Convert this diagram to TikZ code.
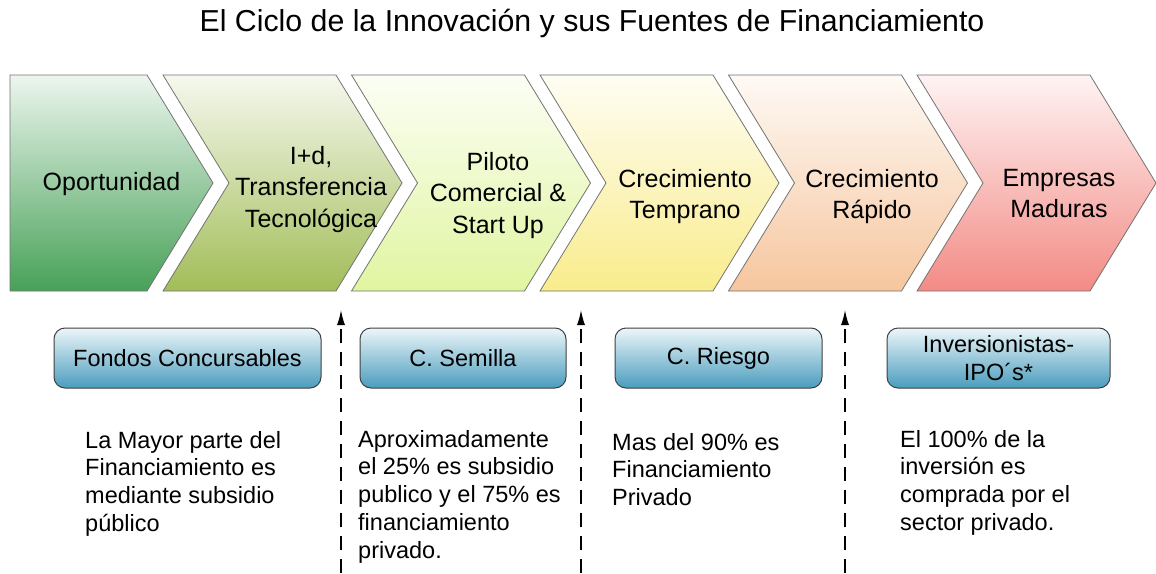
\documentclass[tikz,border=0pt]{standalone}
\usepackage{fontspec}
\setmainfont{Liberation Sans}
\usepackage{tikz}
\usetikzlibrary{arrows.meta, positioning}
\definecolor{stageA}{RGB}{71,161,88}
\definecolor{stageB}{RGB}{162,189,88}
\definecolor{stageC}{RGB}{224,245,160}
\definecolor{stageD}{RGB}{249,236,140}
\definecolor{stageE}{RGB}{246,198,158}
\definecolor{stageF}{RGB}{243,139,133}
\definecolor{boxtop}{RGB}{236,246,249}
\definecolor{boxblue}{RGB}{74,156,189}

\begin{document}
\begin{tikzpicture}[x=1pt, y=-1pt,
  chevron/.style={draw=black!55, line width=0.8pt},
  stagetext/.style={font=\fontsize{25}{31.5}\selectfont, align=center, anchor=north, inner sep=0pt},
  fundbox/.style={draw=black!75, line width=1pt, rounded corners=11pt, top color=boxtop, bottom color=boxblue,
    font=\fontsize{23.5}{28}\selectfont, align=center, minimum height=60pt, inner sep=0pt},
  note/.style={font=\fontsize{23.5}{27.7}\selectfont, align=left, anchor=north west, inner sep=0pt},
  finarrow/.style={-{Latex[length=15pt, width=8pt]}, line width=1.3pt, dash pattern=on 14pt off 9pt}]
  \fill[white] (0,0) rectangle (1156,573);
  \useasboundingbox (0,0) rectangle (1156,573);

  % Title
  \node[font=\fontsize{30.3}{36}\selectfont, anchor=base] (title) at (592,31)
    {El Ciclo de la Innovación y sus Fuentes de Financiamiento};

  % Chevrons
  \shadedraw[chevron, top color=stageA!10!white, bottom color=stageA]
    (10,75) -- (147,75) -- (213,183) -- (147,291) -- (10,291) -- cycle;
  \foreach \i/\col in {2/stageB, 3/stageC, 4/stageD, 5/stageE, 6/stageF} {
    \pgfmathsetmacro\L{163+188.5*(\i-2)}
    \pgfmathsetmacro\R{\L+173}
    \shadedraw[chevron, top color=\col!10!white, bottom color=\col]
      (\L,75) -- (\R,75) -- (\R+66,183) -- (\R,291) -- (\L,291) -- (\L+66,183) -- cycle;
  }

  \node[stagetext] (oport) at (111.5,172) {Oportunidad};
  \node[stagetext] (idtt) at (311,146) {I+d,\\Transferencia\\Tecnológica};
  \node[stagetext] (piloto) at (498,152) {Piloto\\Comercial \&\\Start Up};
  \node[stagetext] (ctemp) at (685,169) {Crecimiento\\Temprano};
  \node[stagetext] (crap) at (872,169) {Crecimiento\\Rápido};
  \node[stagetext] (madur) at (1059,169) {Empresas\\Maduras};

  % Funding sources
  \node[fundbox, minimum width=267pt] (fondos) at (187.5,358) {Fondos Concursables};
  \node[fundbox, minimum width=206pt] (semilla) at (463,358) {C. Semilla};
  \node[fundbox, minimum width=207pt] (riesgo) at (718.5,358) {C. Riesgo};
  \node[fundbox, minimum width=223pt] (ipo) at (998.5,358) {Inversionistas-\\IPO´s*};

  % Dashed limits
  \foreach \x [count=\k] in {341,581,845} {
    \coordinate (lim\k b) at (\x,573);
    \coordinate (lim\k t) at (\x,310);
    \draw[finarrow] (lim\k b) -- (lim\k t);
  }

  % Notes
  \node[note] (nfondos) at (85,431) {La Mayor parte del\\Financiamiento es\\mediante subsidio\\público};
  \node[note] (nsemilla) at (358,430) {Aproximadamente\\el 25\% es subsidio\\publico y el 75\% es\\financiamiento\\privado.};
  \node[note] (nriesgo) at (612,433) {Mas del 90\% es\\Financiamiento\\Privado};
  \node[note] (nipo) at (900,430) {El 100\% de la\\inversión es\\comprada por el\\sector privado.};
\end{tikzpicture}
\end{document}
